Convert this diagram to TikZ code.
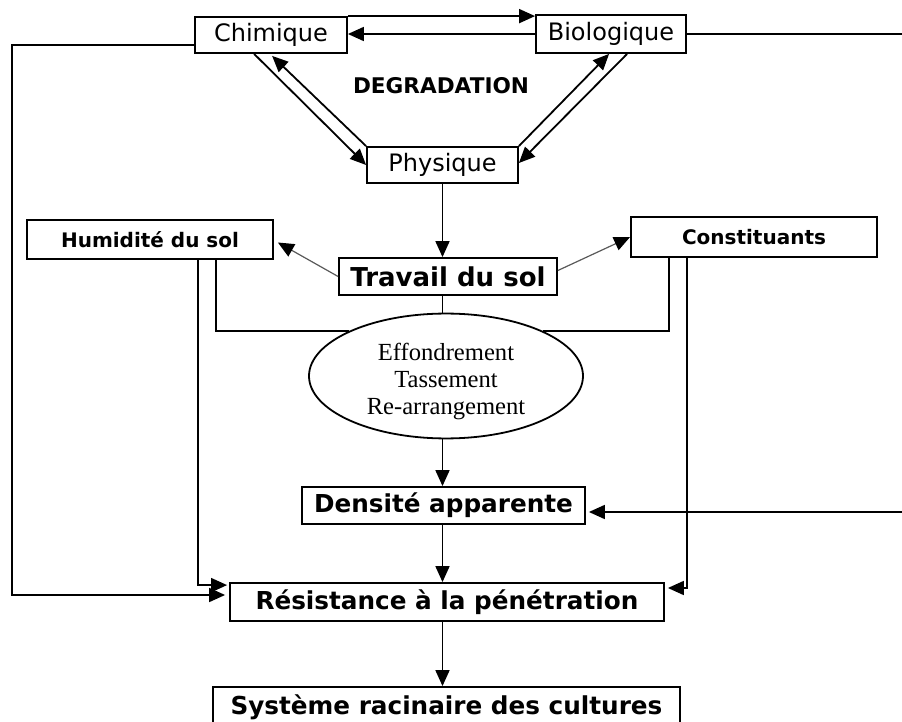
\documentclass[tikz,border=0pt]{standalone}
\usepackage{fontspec}
\setmainfont{DejaVu Sans}
\newfontfamily\ellipsefont{Liberation Serif}
\usetikzlibrary{shapes.geometric, arrows.meta}
\tikzstyle{box} = [rectangle, draw=black, line width=0.9pt, inner sep=0pt, text centered, font=\fontsize{12}{14}\selectfont]
\tikzstyle{factor} = [box, font=\bfseries\fontsize{10}{12}\selectfont]
\tikzstyle{result} = [box, font=\bfseries\fontsize{12.35}{14}\selectfont]
\tikzstyle{process} = [ellipse, draw=black, line width=0.9pt, inner sep=0pt, align=center, font=\ellipsefont\fontsize{12.3}{13.5}\selectfont]
\tikzstyle{link} = [line width=0.9pt, -{Triangle[length=8pt, width=7pt]}]
\tikzstyle{plain_link} = [line width=0.9pt]
\tikzstyle{soft_link} = [line width=0.6pt, draw=black!65, -{Triangle[length=8pt, width=7pt, black]}]

\begin{document}
\begin{tikzpicture}[x=0.5pt, y=-0.5pt]

    \clip (0,0) rectangle (902,722);

    % degradation triangle
    \node (chim) [box, minimum width=76pt, minimum height=18pt] at (271,35) {Chimique};
    \node (bio) [box, minimum width=75pt, minimum height=19pt] at (611,34) {Biologique};
    \node (phys) [box, minimum width=75.5pt, minimum height=18pt] at (442.5,165) {Physique};
    \node (degr) [font=\bfseries\fontsize{10.8}{12}\selectfont] at (441,86) {DEGRADATION};

    \node (trav) [result, font=\bfseries\fontsize{13}{15}\selectfont, minimum width=109pt, minimum height=18.5pt] at (448,276.5) {Travail du sol};
    \node (hum) [factor, minimum width=123pt, minimum height=19.5pt] at (150,239.5) {Humidité du sol};
    \node (cons) [factor, minimum width=123pt, minimum height=20pt] at (754,237) {Constituants};

    \node (eff) [process, minimum width=137pt, minimum height=58pt] at (446,376) {\rule{0pt}{14.5pt}Effondrement\\Tassement\\Re-arrangement};

    \node (dens) [result, minimum width=141.5pt, minimum height=18.5pt] at (443.5,505.5) {Densité apparente};
    \node (res) [result, fill=white, minimum width=217pt, minimum height=19pt] at (447,602) {Résistance à la pénétration};
    \node (sys) [result, minimum width=233.5pt, minimum height=20pt] at (446.5,707) {Système racinaire des cultures};

    \coordinate (edge1) at (902,34);
    \coordinate (edge2) at (902,512);

    \draw [link] (chim.north east) -- (chim.north east -| bio.west);
    \draw [link] (bio.west) -- (bio.west -| chim.east);

    \draw [link] ([xshift=30pt]chim.south west) -- (phys.west);
    \draw [link] (phys.north west) -- ([xshift=39pt, yshift=-1pt]chim.south west);
    \draw [link] (phys.north east) -- ([xshift=37pt]bio.south west);
    \draw [link] ([xshift=46pt]bio.south west) -- ([yshift=1pt]phys.east);

    \draw [link] (phys.south) -- (phys.south |- trav.north);
    \draw [soft_link] (trav.west) -- ([xshift=2pt, yshift=-1.5pt]hum.east);
    \draw [soft_link] ([yshift=3pt]trav.east) -- (cons.west);

    \draw [plain_link] (phys.south |- trav.south) -- (phys.south |- eff.north);
    \draw [plain_link] ([xshift=95pt]hum.south west) |- (eff.155);
    \draw [plain_link] ([xshift=19.5pt]cons.south west) |- (eff.25);

    \draw [link] (phys.south |- eff.south) -- (phys.south |- dens.north);
    \draw [link] (phys.south |- dens.south) -- (phys.south |- res.north);
    \draw [link] (phys.south |- res.south) -- (phys.south |- sys.north);

    % long feedback lines
    \draw [link] (chim.west |- 0,45) -| (12,595) -- ([xshift=-2pt, yshift=3.5pt]res.west);
    \draw [link] ([xshift=86pt]hum.south west) |- ([xshift=-1pt, yshift=-1.5pt]res.north west);
    \draw [link] ([xshift=28.5pt]cons.south west) |- ([xshift=1.5pt, yshift=7pt]res.east);
    \draw [plain_link] (bio.east) -- (edge1);
    \draw [link, shorten >=1.5pt] (edge2) -- (edge2 -| dens.east);

\end{tikzpicture}
\end{document}
